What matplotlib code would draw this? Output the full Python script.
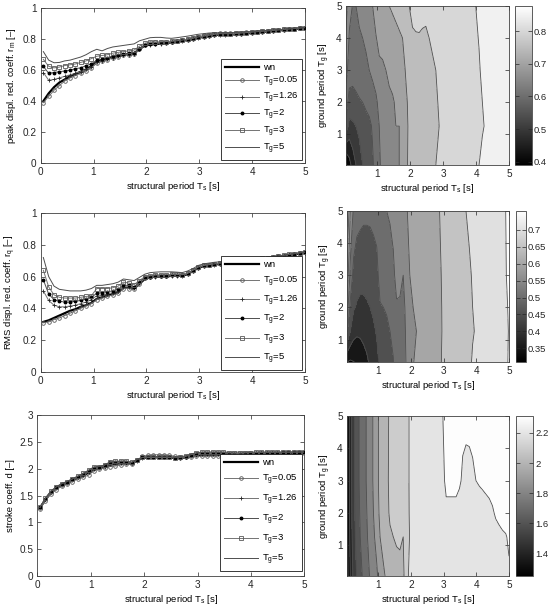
import numpy as np
import matplotlib
matplotlib.use('Agg')
import matplotlib.pyplot as plt
from matplotlib.colors import Normalize
from matplotlib.cm import ScalarMappable
from matplotlib.ticker import FuncFormatter

plt.rcParams['font.family'] = ['Liberation Sans', 'DejaVu Sans']
plt.rcParams['mathtext.fontset'] = 'custom'
plt.rcParams['mathtext.rm'] = 'Liberation Sans'
plt.rcParams['font.size'] = 6.8
plt.rcParams['axes.linewidth'] = 0.6

# ---------------- data ----------------
Ts = np.linspace(0.05, 5.0, 50)          # structural period grid [s]
Tg_values = [0.05, 1.26, 2, 3, 5]        # ground periods [s]
series_labels = ['wn', 'T$_\\mathregular{g}$=0.05', 'T$_\\mathregular{g}$=1.26',
                 'T$_\\mathregular{g}$=2', 'T$_\\mathregular{g}$=3', 'T$_\\mathregular{g}$=5']

# peak displacement reduction coefficient r_m
rm_wn = [0.40, 0.45, 0.49, 0.52, 0.54, 0.56, 0.575, 0.59, 0.605, 0.625,
         0.655, 0.665, 0.675, 0.685, 0.69, 0.70, 0.705, 0.71, 0.735, 0.76,
         0.765, 0.77, 0.77, 0.775, 0.78, 0.785, 0.79, 0.795, 0.80, 0.81,
         0.815, 0.82, 0.825, 0.83, 0.83, 0.83, 0.832, 0.835, 0.838, 0.84,
         0.845, 0.848, 0.85, 0.853, 0.856, 0.86, 0.863, 0.866, 0.87, 0.873]
rm_tg005 = [0.39, 0.43, 0.47, 0.50, 0.53, 0.55, 0.565, 0.58, 0.595, 0.615,
            0.645, 0.66, 0.665, 0.68, 0.685, 0.695, 0.70, 0.705, 0.735, 0.765,
            0.775, 0.78, 0.78, 0.785, 0.785, 0.79, 0.795, 0.80, 0.81, 0.815,
            0.825, 0.83, 0.835, 0.838, 0.838, 0.838, 0.84, 0.842, 0.845, 0.848,
            0.85, 0.853, 0.855, 0.858, 0.86, 0.863, 0.866, 0.869, 0.872, 0.875]
rm_tg126 = [0.585, 0.535, 0.54, 0.55, 0.56, 0.57, 0.58, 0.59, 0.605, 0.62,
            0.65, 0.66, 0.67, 0.68, 0.69, 0.70, 0.70, 0.705, 0.735, 0.76,
            0.765, 0.77, 0.772, 0.776, 0.78, 0.786, 0.79, 0.796, 0.80, 0.81,
            0.816, 0.82, 0.826, 0.83, 0.83, 0.831, 0.833, 0.836, 0.839, 0.842,
            0.846, 0.849, 0.851, 0.854, 0.857, 0.86, 0.863, 0.866, 0.87, 0.873]
rm_tg2 = [0.625, 0.58, 0.585, 0.59, 0.595, 0.60, 0.61, 0.615, 0.63, 0.64,
          0.665, 0.67, 0.68, 0.69, 0.695, 0.705, 0.708, 0.712, 0.74, 0.763,
          0.768, 0.772, 0.774, 0.778, 0.782, 0.788, 0.792, 0.797, 0.802, 0.812,
          0.817, 0.822, 0.827, 0.831, 0.831, 0.832, 0.834, 0.837, 0.84, 0.843,
          0.847, 0.85, 0.852, 0.855, 0.858, 0.861, 0.864, 0.867, 0.871, 0.874]
rm_tg3 = [0.67, 0.625, 0.615, 0.62, 0.63, 0.635, 0.64, 0.65, 0.66, 0.675,
          0.69, 0.695, 0.70, 0.71, 0.715, 0.72, 0.725, 0.73, 0.755, 0.775,
          0.78, 0.782, 0.783, 0.785, 0.787, 0.79, 0.795, 0.80, 0.806, 0.815,
          0.82, 0.826, 0.832, 0.836, 0.836, 0.836, 0.838, 0.84, 0.843, 0.846,
          0.849, 0.852, 0.854, 0.857, 0.86, 0.863, 0.866, 0.869, 0.872, 0.875]
rm_tg5 = [0.72, 0.665, 0.648, 0.65, 0.66, 0.665, 0.675, 0.685, 0.70, 0.72,
          0.735, 0.725, 0.74, 0.75, 0.755, 0.76, 0.765, 0.77, 0.79, 0.80,
          0.81, 0.812, 0.812, 0.808, 0.806, 0.81, 0.815, 0.82, 0.826, 0.832,
          0.836, 0.84, 0.842, 0.842, 0.842, 0.842, 0.844, 0.846, 0.848, 0.85,
          0.852, 0.855, 0.857, 0.86, 0.862, 0.865, 0.868, 0.871, 0.874, 0.877]

# RMS displacement reduction coefficient r_q
rq_wn = [0.315, 0.325, 0.34, 0.355, 0.37, 0.385, 0.395, 0.41, 0.42, 0.435,
         0.46, 0.47, 0.48, 0.49, 0.50, 0.53, 0.53, 0.525, 0.555, 0.585,
         0.595, 0.60, 0.60, 0.60, 0.605, 0.605, 0.605, 0.615, 0.635, 0.655,
         0.665, 0.67, 0.675, 0.68, 0.68, 0.683, 0.688, 0.693, 0.698, 0.70,
         0.705, 0.71, 0.715, 0.72, 0.725, 0.73, 0.735, 0.74, 0.745, 0.75]
rq_tg005 = [0.31, 0.315, 0.33, 0.34, 0.355, 0.37, 0.385, 0.40, 0.415, 0.43,
            0.455, 0.465, 0.475, 0.485, 0.495, 0.525, 0.525, 0.52, 0.555, 0.59,
            0.60, 0.605, 0.605, 0.605, 0.61, 0.61, 0.61, 0.62, 0.64, 0.66,
            0.67, 0.675, 0.68, 0.685, 0.688, 0.69, 0.694, 0.698, 0.702, 0.705,
            0.709, 0.713, 0.717, 0.722, 0.727, 0.732, 0.737, 0.742, 0.747, 0.752]
rq_tg126 = [0.51, 0.45, 0.42, 0.41, 0.41, 0.415, 0.42, 0.43, 0.44, 0.455,
            0.48, 0.485, 0.49, 0.50, 0.51, 0.535, 0.535, 0.53, 0.56, 0.59,
            0.597, 0.60, 0.602, 0.602, 0.606, 0.606, 0.606, 0.616, 0.636, 0.656,
            0.666, 0.671, 0.676, 0.681, 0.682, 0.685, 0.689, 0.694, 0.699, 0.701,
            0.706, 0.711, 0.716, 0.721, 0.726, 0.731, 0.736, 0.741, 0.746, 0.751]
rq_tg2 = [0.58, 0.49, 0.455, 0.445, 0.44, 0.44, 0.445, 0.45, 0.46, 0.47,
          0.495, 0.50, 0.505, 0.51, 0.52, 0.545, 0.545, 0.535, 0.565, 0.595,
          0.60, 0.603, 0.604, 0.604, 0.607, 0.607, 0.607, 0.617, 0.637, 0.657,
          0.667, 0.672, 0.677, 0.682, 0.683, 0.686, 0.69, 0.695, 0.70, 0.702,
          0.707, 0.712, 0.717, 0.722, 0.727, 0.732, 0.737, 0.742, 0.747, 0.752]
rq_tg3 = [0.64, 0.535, 0.485, 0.47, 0.465, 0.465, 0.465, 0.47, 0.475, 0.48,
          0.525, 0.525, 0.525, 0.53, 0.54, 0.565, 0.56, 0.55, 0.575, 0.60,
          0.605, 0.61, 0.612, 0.612, 0.614, 0.614, 0.612, 0.62, 0.64, 0.66,
          0.67, 0.675, 0.68, 0.685, 0.686, 0.689, 0.692, 0.697, 0.702, 0.704,
          0.709, 0.714, 0.719, 0.724, 0.729, 0.734, 0.739, 0.744, 0.749, 0.754]
rq_tg5 = [0.72, 0.60, 0.54, 0.52, 0.515, 0.51, 0.51, 0.51, 0.515, 0.525,
          0.545, 0.545, 0.55, 0.555, 0.565, 0.585, 0.58, 0.575, 0.595, 0.615,
          0.625, 0.628, 0.63, 0.63, 0.63, 0.628, 0.625, 0.635, 0.65, 0.67,
          0.68, 0.685, 0.69, 0.693, 0.695, 0.697, 0.70, 0.704, 0.708, 0.71,
          0.714, 0.718, 0.722, 0.726, 0.731, 0.735, 0.74, 0.745, 0.75, 0.755]

# stroke coefficient d
d_wn = [1.27, 1.42, 1.55, 1.63, 1.69, 1.73, 1.78, 1.83, 1.87, 1.93,
        1.99, 2.01, 2.03, 2.07, 2.09, 2.10, 2.10, 2.09, 2.15, 2.20,
        2.21, 2.21, 2.21, 2.21, 2.21, 2.20, 2.20, 2.21, 2.23, 2.25,
        2.26, 2.26, 2.26, 2.26, 2.26, 2.26, 2.265, 2.27, 2.27, 2.275,
        2.28, 2.28, 2.285, 2.285, 2.29, 2.29, 2.29, 2.295, 2.295, 2.30]
d_tg005 = [1.25, 1.40, 1.53, 1.61, 1.67, 1.72, 1.76, 1.81, 1.84, 1.88,
           1.96, 1.99, 2.01, 2.04, 2.05, 2.07, 2.08, 2.08, 2.16, 2.23,
           2.25, 2.26, 2.26, 2.26, 2.25, 2.23, 2.22, 2.22, 2.22, 2.23,
           2.23, 2.23, 2.23, 2.235, 2.24, 2.245, 2.25, 2.26, 2.27, 2.275,
           2.28, 2.285, 2.29, 2.29, 2.292, 2.294, 2.295, 2.296, 2.297, 2.298]
d_tg126 = [1.27, 1.43, 1.56, 1.64, 1.70, 1.74, 1.79, 1.84, 1.88, 1.94,
           2.00, 2.02, 2.04, 2.08, 2.10, 2.11, 2.11, 2.10, 2.15, 2.205,
           2.21, 2.212, 2.212, 2.212, 2.21, 2.206, 2.206, 2.212, 2.23, 2.26,
           2.27, 2.27, 2.27, 2.27, 2.27, 2.27, 2.27, 2.275, 2.28, 2.28,
           2.285, 2.285, 2.29, 2.29, 2.292, 2.294, 2.296, 2.298, 2.299, 2.302]
d_tg2 = [1.28, 1.44, 1.57, 1.65, 1.71, 1.75, 1.80, 1.85, 1.90, 1.96,
         2.02, 2.03, 2.06, 2.12, 2.13, 2.13, 2.13, 2.11, 2.16, 2.21,
         2.21, 2.21, 2.21, 2.21, 2.21, 2.206, 2.206, 2.22, 2.25, 2.28,
         2.29, 2.29, 2.29, 2.29, 2.285, 2.28, 2.28, 2.28, 2.28, 2.285,
         2.29, 2.29, 2.293, 2.295, 2.298, 2.302, 2.304, 2.305, 2.306, 2.306]
d_tg3 = [1.28, 1.45, 1.58, 1.66, 1.72, 1.76, 1.81, 1.86, 1.91, 1.97,
         2.03, 2.04, 2.07, 2.13, 2.14, 2.14, 2.14, 2.12, 2.17, 2.21,
         2.21, 2.21, 2.21, 2.21, 2.21, 2.206, 2.21, 2.23, 2.26, 2.29,
         2.31, 2.31, 2.31, 2.31, 2.305, 2.295, 2.29, 2.29, 2.295, 2.30,
         2.302, 2.304, 2.305, 2.306, 2.307, 2.308, 2.308, 2.309, 2.31, 2.31]
d_tg5 = [1.28, 1.45, 1.58, 1.66, 1.72, 1.76, 1.81, 1.86, 1.91, 1.97,
         2.03, 2.04, 2.07, 2.12, 2.13, 2.14, 2.14, 2.12, 2.17, 2.21,
         2.22, 2.22, 2.22, 2.22, 2.22, 2.21, 2.22, 2.24, 2.27, 2.30,
         2.305, 2.306, 2.307, 2.308, 2.308, 2.308, 2.308, 2.309, 2.309, 2.31,
         2.31, 2.31, 2.31, 2.31, 2.31, 2.311, 2.311, 2.312, 2.312, 2.312]

panels = [
    dict(series=[rm_wn, rm_tg005, rm_tg126, rm_tg2, rm_tg3, rm_tg5],
         ylabel='peak displ. red. coeff. r$_\\mathregular{m}$ [\u2013]',
         ylim=(0, 1), yticks=[0, 0.2, 0.4, 0.6, 0.8, 1],
         levels=[0.40, 0.45, 0.50, 0.55, 0.60, 0.65, 0.70, 0.75, 0.80, 0.85],
         cticks=[0.4, 0.5, 0.6, 0.7, 0.8], tg_min=0.05),
    dict(series=[rq_wn, rq_tg005, rq_tg126, rq_tg2, rq_tg3, rq_tg5],
         ylabel='RMS displ. red. coeff. r$_\\mathregular{q}$ [\u2013]',
         ylim=(0, 1), yticks=[0, 0.2, 0.4, 0.6, 0.8, 1],
         levels=[0.35, 0.40, 0.45, 0.50, 0.55, 0.60, 0.65, 0.70, 0.75],
         cticks=[0.35, 0.4, 0.45, 0.5, 0.55, 0.6, 0.65, 0.7], tg_min=0.3),
    dict(series=[d_wn, d_tg005, d_tg126, d_tg2, d_tg3, d_tg5],
         ylabel='stroke coeff. d [\u2013]',
         ylim=(0, 3), yticks=[0, 0.5, 1, 1.5, 2, 2.5, 3],
         levels=[1.3, 1.4, 1.5, 1.6, 1.7, 1.8, 1.9, 2.0, 2.1, 2.2, 2.3],
         cticks=[1.4, 1.6, 1.8, 2, 2.2], tg_min=0.05),
]

styles = [
    dict(color='k', lw=1.6, zorder=2),
    dict(color='0.45', lw=0.7, marker='o', ms=2.6, mfc='none', mec='0.35', mew=0.6, zorder=3),
    dict(color='0.45', lw=0.7, marker='+', ms=3.2, mec='0.15', mew=0.6, zorder=3),
    dict(color='0.3', lw=0.7, marker='.', ms=3.6, mfc='k', mec='k', zorder=3),
    dict(color='0.45', lw=0.7, marker='s', ms=2.4, mfc='none', mec='0.35', mew=0.6, zorder=3),
    dict(color='0.3', lw=0.7, zorder=3),
]

W, H = 550, 610
fig = plt.figure(figsize=(W / 100, H / 100), dpi=100)


def px(x0, y0, x1, y1):
    return [x0 / W, 1 - y1 / H, (x1 - x0) / W, (y1 - y0) / H]


left_boxes = [px(40.7, 8.3, 305, 163), px(40.7, 213, 305, 372), px(37.3, 415, 304.3, 576)]
right_boxes = [px(346, 6, 509, 165), px(347, 211, 509, 362), px(347, 416, 509, 576)]
cbar_boxes = [px(515, 6, 532, 165), px(516, 211, 526, 362), px(516, 416, 533, 576)]
legend_anchor = [(0.99, 0.02), (0.99, 0.012), (0.99, 0.03)]
legend_spacing = [0.28, 0.55, 0.62]

fmt = FuncFormatter(lambda v, p: f'{v:g}')
xlabel = 'structural period T$_\\mathregular{s}$ [s]'
TICK_FS = 7.2


def style_axes(ax):
    ax.tick_params(direction='in', length=3, width=0.5, top=True, right=True,
                   labelsize=TICK_FS, pad=3, colors='0.15')
    for s in ax.spines.values():
        s.set_color('0.25')
        s.set_linewidth(0.6)


for i, p in enumerate(panels):
    # ---- line plot ----
    ax = fig.add_axes(left_boxes[i])
    handles = []
    for vals, st in zip(p['series'], styles):
        h, = ax.plot(Ts, vals, **st)
        handles.append(h)
    ax.set_xlim(0, 5)
    ax.set_ylim(*p['ylim'])
    ax.set_xticks([0, 1, 2, 3, 4, 5])
    ax.set_yticks(p['yticks'])
    ax.xaxis.set_major_formatter(fmt)
    ax.yaxis.set_major_formatter(fmt)
    ax.set_xlabel(xlabel, labelpad=2)
    ax.set_ylabel(p['ylabel'], labelpad=3)
    style_axes(ax)
    leg = ax.legend(handles, series_labels, loc='lower right',
                    bbox_to_anchor=legend_anchor[i], fontsize=6.8,
                    handlelength=3.6, handletextpad=0.4,
                    labelspacing=legend_spacing[i],
                    borderpad=0.45, borderaxespad=0.0, fancybox=False,
                    framealpha=1, edgecolor='0.1')
    leg.get_frame().set_linewidth(0.6)

    # ---- contour map ----
    axc = fig.add_axes(right_boxes[i])
    Z = np.vstack(p['series'][1:])
    vmin, vmax = float(Z.min()) - 1e-4, float(Z.max()) + 1e-4
    norm = Normalize(vmin, vmax)
    cmap = plt.get_cmap('gray')
    lv = p['levels']
    fill_levels = [vmin] + lv + [vmax]
    band_cols = [cmap(norm(v)) for v in fill_levels[:-1]]
    axc.contourf(Ts, Tg_values, Z, levels=fill_levels, colors=band_cols)
    axc.contour(Ts, Tg_values, Z, levels=lv, colors='0.3', linewidths=0.6)
    axc.set_xlim(0.05, 5)
    axc.set_ylim(p['tg_min'], 5)
    axc.set_xticks([1, 2, 3, 4, 5])
    axc.set_yticks([1, 2, 3, 4, 5])
    axc.xaxis.set_major_formatter(fmt)
    axc.yaxis.set_major_formatter(fmt)
    axc.set_xlabel(xlabel, labelpad=2)
    axc.set_ylabel('ground period T$_\\mathregular{g}$ [s]', labelpad=3)
    style_axes(axc)

    cax = fig.add_axes(cbar_boxes[i])
    cb = fig.colorbar(ScalarMappable(norm=norm, cmap=cmap), cax=cax)
    cb.set_ticks(p['cticks'])
    cb.ax.yaxis.set_major_formatter(fmt)
    cb.outline.set_linewidth(0.6)
    cb.outline.set_edgecolor('0.25')
    cax.tick_params(direction='in', length=3, width=0.5, left=True, right=True,
                    labelsize=6.8, pad=1.5, colors='0.15')

fig.savefig('out.png', dpi=100)
